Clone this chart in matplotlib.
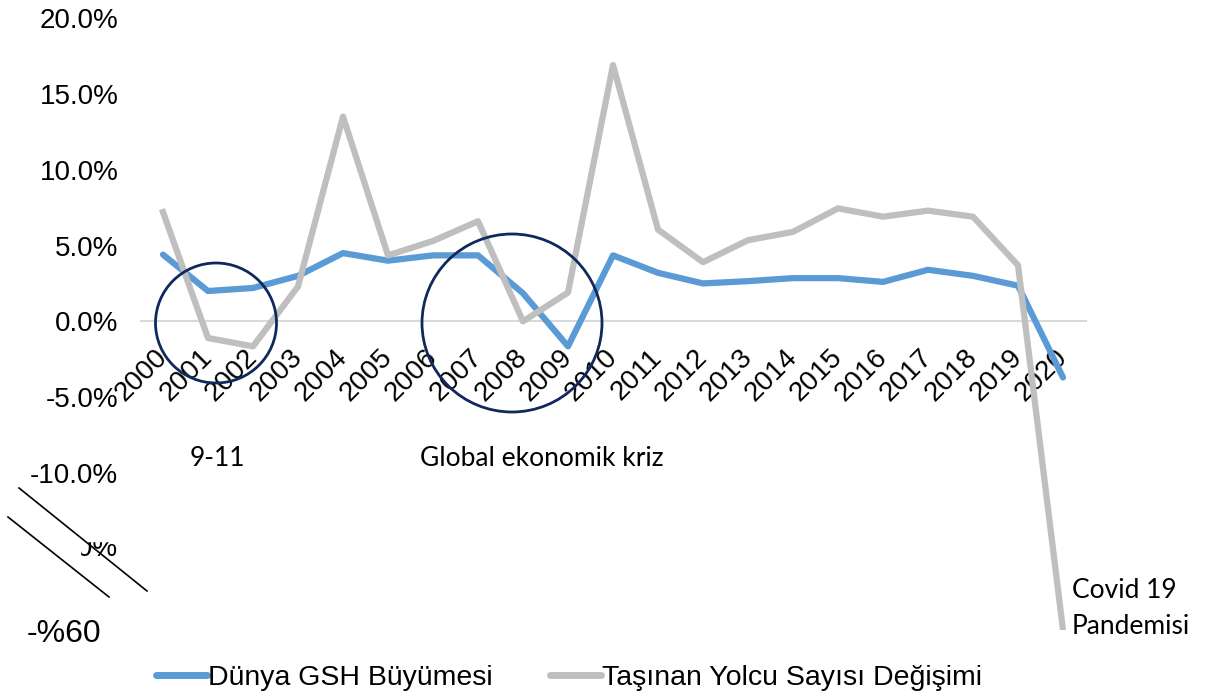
import matplotlib

matplotlib.use("Agg")
import matplotlib.pyplot as plt
import matplotlib.transforms as mtransforms
import numpy as np
from matplotlib.lines import Line2D
from matplotlib.patches import Ellipse, Rectangle

years = [str(y) for y in range(2000, 2021)]
gdp_growth = [4.4, 2.0, 2.2, 3.0, 4.5, 4.0, 4.35, 4.35, 1.85, -1.65, 4.35,
              3.2, 2.5, 2.65, 2.85, 2.85, 2.6, 3.4, 3.0, 2.35, -3.7]
passenger_change = [7.2, -1.1, -1.65, 2.3, 13.5, 4.35, 5.3, 6.6, 0.0, 1.9, 16.9,
                    6.05, 3.9, 5.35, 5.9, 7.45, 6.9, 7.3, 6.9, 3.7, -60.0]
ytick_values = [20, 15, 10, 5, 0, -5, -10, -60]
ytick_labels = ["20.0%", "15.0%", "10.0%", "5.0%", "0.0%", "-5.0%", "-10.0%", "-%60"]
series_names = ["Dünya GSH Büyümesi", "Taşınan Yolcu Sayısı Değişimi"]

W, H = 1224, 696
BLUE = "#5b9bd5"
GREY = "#bfbfbf"
NAVY = "#10295c"

# values below -10% are squeezed (broken axis)
BREAK = -10.0
SQUEEZE = 0.207


def forward(v):
    v = np.asarray(v, dtype=float)
    return np.where(v >= BREAK, v, BREAK + (v - BREAK) * SQUEEZE)


def inverse(v):
    v = np.asarray(v, dtype=float)
    return np.where(v >= BREAK, v, BREAK + (v - BREAK) / SQUEEZE)


def fx(x):
    return x / W


def fy(y):
    return 1 - y / H


plt.rcParams["font.family"] = ["Liberation Sans", "DejaVu Sans"]

fig = plt.figure(figsize=(W / 100, H / 100), dpi=100)
ax = fig.add_axes([fx(140.5), fy(630), 945 / W, (630 - 18) / H])

ax.set_yscale("function", functions=(forward, inverse))
x = np.arange(len(years))
ax.plot(x, gdp_growth, color=BLUE, lw=4.5, solid_capstyle="round", zorder=3)
ax.plot(x, passenger_change, color=GREY, lw=4.5, zorder=3)
ax.set_xlim(-0.5, len(years) - 0.5)
ax.set_ylim(-60, 20)

for side in ["left", "right", "top"]:
    ax.spines[side].set_visible(False)
ax.spines["bottom"].set_position(("data", 0))
ax.spines["bottom"].set_color("#d9d9d9")
ax.spines["bottom"].set_linewidth(1.5)

ax.set_xticks(x)
ax.set_xticklabels(years, rotation=45, ha="right", va="center",
                   rotation_mode="anchor", fontsize=20)
ax.tick_params(axis="x", length=0, pad=23)
ax.set_yticks(ytick_values)
ax.set_yticklabels(ytick_labels, fontsize=20)
ax.tick_params(axis="y", length=0, pad=16)

# the -60 label is bigger and sits further left in the original
shift = mtransforms.ScaledTranslation(-0.17, 0, fig.dpi_scale_trans)
for lab in ax.get_yticklabels():
    if lab.get_text() == "-%60":
        lab.set_fontsize(23)
        lab.set_transform(lab.get_transform() + shift)

# half-hidden label behind the break marks
fig.text(fx(118), fy(549), "-15.0%", ha="right", va="center", fontsize=20, zorder=5)
fig.add_artist(Rectangle((0, fy(541)), fx(135), fy(487) - fy(541),
                         transform=fig.transFigure, color="white", zorder=6))
fig.add_artist(Rectangle((0, fy(600)), fx(80), fy(487) - fy(600),
                         transform=fig.transFigure, color="white", zorder=6))
for (x0, y0), (x1, y1) in [((19, 488), (147, 591)), ((8, 517), (109, 597))]:
    fig.add_artist(Line2D([fx(x0), fx(x1)], [fy(y0), fy(y1)], color="black",
                          lw=1.2, transform=fig.transFigure, zorder=7))

# highlight circles
for cx, cy, w, h in [(216, 323, 121, 120), (512, 323, 180, 178)]:
    fig.add_artist(Ellipse((fx(cx), fy(cy)), w / W, h / H, transform=fig.transFigure,
                           fill=False, edgecolor=NAVY, lw=2, zorder=8))

note_font = ["Lato", "DejaVu Sans"]
fig.text(fx(190), fy(458), "9-11", family=note_font, fontsize=19, va="center")
fig.text(fx(420), fy(458), "Global ekonomik kriz", family=note_font, fontsize=19, va="center")
fig.text(fx(1072), fy(590), "Covid 19", family=note_font, fontsize=19, va="center")
fig.text(fx(1072), fy(627), "Pandemisi", family=note_font, fontsize=19, va="center")

handles = [Line2D([], [], color=BLUE, lw=5, solid_capstyle="round"),
           Line2D([], [], color=GREY, lw=5, solid_capstyle="round")]
fig.legend(handles, series_names, loc="center", bbox_to_anchor=(fx(569), fy(678)),
           ncol=2, frameon=False, fontsize=20.5, handlelength=1.8,
           handletextpad=0.05, columnspacing=2.0)

fig.savefig("out.png", dpi=100)
